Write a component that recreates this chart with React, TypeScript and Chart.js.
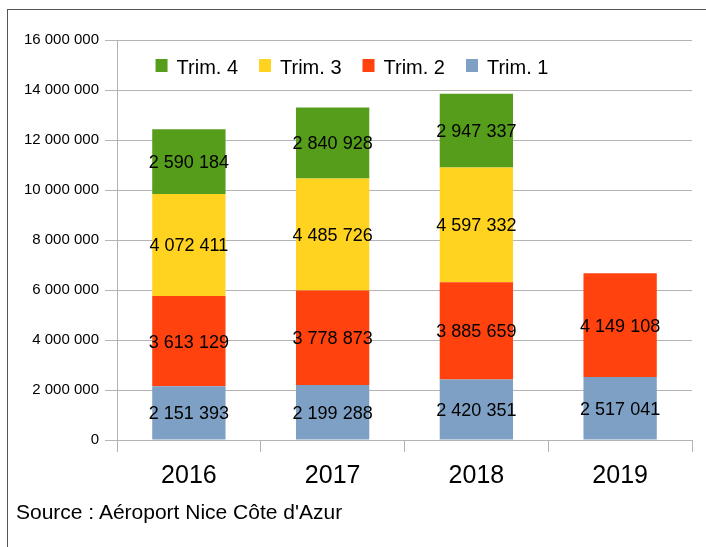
import React, { useEffect, useRef } from 'react';
import { Chart, registerables } from 'chart.js';

Chart.register(...registerables);

const years = ['2016', '2017', '2018', '2019'];
const trim1 = [2151393, 2199288, 2420351, 2517041];
const trim2 = [3613129, 3778873, 3885659, 4149108];
const trim3: (number | null)[] = [4072411, 4485726, 4597332, null];
const trim4: (number | null)[] = [2590184, 2840928, 2947337, null];
const seriesNames = ['Trim. 1', 'Trim. 2', 'Trim. 3', 'Trim. 4'];
const seriesValues = [trim1, trim2, trim3, trim4];
const seriesColors = ['#7ea0c4', '#ff420e', '#ffd320', '#579d1c'];
const yMax = 16000000;
const yStep = 2000000;
const sourceText = "Source : Aéroport Nice Côte d'Azur";

const FONT = '"Liberation Sans", Arial, sans-serif';
const GRID = '#b3b3b3';

const fmt = (v: number) =>
  Math.round(v).toString().replace(/\B(?=(\d{3})+(?!\d))/g, ' ');

const dataLabels = {
  id: 'dataLabels',
  afterDatasetsDraw(chart: any) {
    const ctx = chart.ctx;
    ctx.save();
    ctx.font = `18px ${FONT}`;
    ctx.fillStyle = '#000';
    ctx.textAlign = 'center';
    ctx.textBaseline = 'alphabetic';
    chart.data.datasets.forEach((ds: any, i: number) => {
      const meta = chart.getDatasetMeta(i);
      meta.data.forEach((el: any, j: number) => {
        const v = ds.data[j];
        if (v == null) return;
        const { x, y, base } = el.getProps(['x', 'y', 'base'], true);
        ctx.fillText(fmt(v), x, (y + base) / 2 + 6.5);
      });
    });
    ctx.restore();
  },
};

const insideLegend = {
  id: 'insideLegend',
  afterDraw(chart: any) {
    const ctx = chart.ctx;
    const area = chart.chartArea;
    ctx.save();
    ctx.font = `20px ${FONT}`;
    const items = chart.data.datasets
      .map((ds: any) => ({ label: ds.label, color: ds.backgroundColor }))
      .reverse();
    const box = 12;
    const gapText = 9;
    const gapItem = 21;
    const widths = items.map((it: any) => box + gapText + ctx.measureText(it.label).width);
    const total = widths.reduce((a: number, b: number) => a + b, 0) + gapItem * (items.length - 1);
    let x = chart.width / 2 - total / 2 - 1;
    const baseline = area.top + 34;
    items.forEach((it: any, i: number) => {
      ctx.fillStyle = it.color;
      ctx.fillRect(x, baseline - 15, box, 13);
      ctx.fillStyle = '#000';
      ctx.textAlign = 'left';
      ctx.textBaseline = 'alphabetic';
      ctx.fillText(it.label, x + box + gapText, baseline);
      x += widths[i] + gapItem;
    });
    ctx.restore();
  },
};

export default function App() {
  const ref = useRef<HTMLCanvasElement | null>(null);

  useEffect(() => {
    if (!ref.current) return;
    const chart = new Chart(ref.current, {
      type: 'bar',
      data: {
        labels: years,
        datasets: seriesNames.map((name, i) => ({
          label: name,
          data: seriesValues[i],
          backgroundColor: seriesColors[i],
          borderWidth: 0,
          barPercentage: 1,
          categoryPercentage: 0.51,
        })),
      },
      options: {
        responsive: false,
        animation: false,
        layout: { padding: { top: 40, right: 14, left: 0, bottom: 0 } },
        plugins: {
          legend: { display: false },
          tooltip: { enabled: false },
          title: { display: false },
        },
        scales: {
          x: {
            stacked: true,
            afterFit: (s: any) => {
              s.height = 107;
            },
            grid: {
              offset: true,
              drawOnChartArea: true,
              color: (c: any) => (c.index === years.length ? GRID : 'rgba(0,0,0,0)'),
              tickColor: GRID,
              tickLength: 12,
            },
            border: { display: true, color: GRID },
            ticks: {
              color: '#000',
              padding: 9,
              font: { family: FONT, size: 25 },
            },
          },
          y: {
            stacked: true,
            min: 0,
            max: yMax,
            afterFit: (s: any) => {
              s.width = 117;
            },
            grid: {
              color: GRID,
              tickColor: GRID,
              tickLength: 12,
            },
            border: { display: true, color: GRID },
            ticks: {
              stepSize: yStep,
              color: '#000',
              padding: 6,
              font: { family: FONT, size: 15 },
              callback: (v: any) => fmt(Number(v)),
            },
          },
        },
      },
      plugins: [dataLabels, insideLegend],
    });
    return () => chart.destroy();
  }, []);

  return (
    <div
      style={{
        position: 'absolute',
        left: 0,
        top: 0,
        width: 706,
        height: 547,
        overflow: 'hidden',
        background: '#fff',
      }}
    >
      <div
        style={{
          position: 'absolute',
          left: 7,
          top: 9,
          width: 800,
          height: 700,
          border: '1px solid #555',
        }}
      />
      <canvas
        ref={ref}
        width={706}
        height={547}
        style={{ position: 'absolute', left: 0, top: 0, width: 706, height: 547 }}
      />
      <div
        style={{
          position: 'absolute',
          left: 16,
          top: 501,
          fontFamily: FONT,
          fontSize: 21,
          lineHeight: '21px',
          color: '#000',
          whiteSpace: 'nowrap',
        }}
      >
        {sourceText}
      </div>
    </div>
  );
}
